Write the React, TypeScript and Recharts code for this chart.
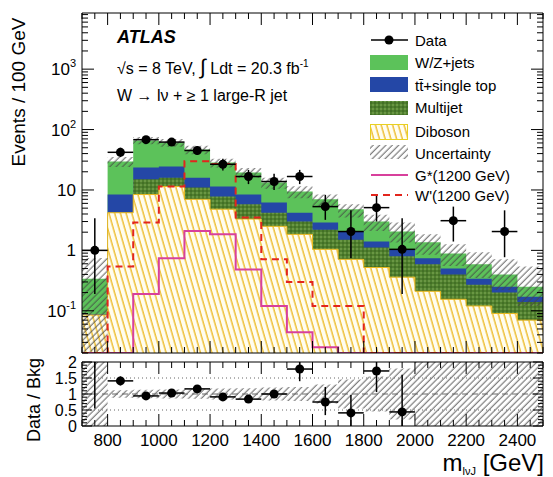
import React from 'react';
import { ComposedChart, Area, Line, Scatter, ErrorBar, XAxis, YAxis, ReferenceLine } from 'recharts';

const FONT = '"Liberation Sans", Arial, Helvetica, sans-serif';

// lower edges of the 100 GeV bins
const binEdges = [700, 800, 900, 1000, 1100, 1200, 1300, 1400, 1500, 1600, 1700, 1800, 1900, 2000, 2100, 2200, 2300, 2400];
const lastEdge = 2500;

// background components (events / 100 GeV), stacked bottom to top
const diboson = [0.085, 4.2, 8.4, 11.4, 7, 4.8, 3.3, 2.5, 1.84, 1.04, 0.71, 0.52, 0.36, 0.21, 0.155, 0.12, 0.09, 0.07];
const multijet = [0, 0, 6.6, 4.6, 4.0, 3.0, 2.5, 1.7, 1.16, 1.16, 0.79, 0.6, 0.44, 0.38, 0.245, 0.15, 0.11, 0.07];
const topSingle = [0.003, 4.2, 8.5, 8.5, 5.0, 3.6, 2.6, 2.0, 1.2, 0.7, 0.55, 0.28, 0.24, 0.15, 0.1, 0.07, 0.05, 0.03];
const wzJets = [0.252, 21.2, 42.5, 36.5, 30.6, 17.1, 11.1, 7.1, 5.2, 4.1, 2.75, 1.6, 1.01, 0.62, 0.39, 0.25, 0.15, 0.08];
const uncLow = [0.021, 24, 57, 52, 39, 23.5, 16, 10.5, 7.3, 5.4, 3.5, 2.1, 1.35, 0.85, 0.55, 0.35, 0.22, 0.12];
const uncHigh = [0.75, 35, 75, 70, 54, 33, 23, 16, 11.5, 8.4, 5.8, 3.9, 2.9, 1.84, 1.26, 0.93, 0.71, 0.54];

// signals (0.02 = at the floor of the plot)
const gStar = [0.02, 0.02, 0.19, 0.74, 2.1, 1.84, 0.48, 0.12, 0.044, 0.025, 0.02, 0.02, 0.02, 0.02, 0.02, 0.02, 0.02, 0.02];
const wPrime = [0.02, 0.54, 2.9, 11.4, 30, 27, 3.5, 0.71, 0.3, 0.12, 0.12, 0.02, 0.02, 0.02, 0.02, 0.02, 0.02, 0.02];

// data
const dataMass = [750, 850, 950, 1050, 1150, 1250, 1350, 1450, 1550, 1650, 1750, 1850, 1950, 2150, 2350];
const dataEvents = [1, 42, 68, 62, 45, 26.6, 16.7, 13.8, 16.7, 5.3, 2.05, 5.1, 1.04, 3.1, 2.05];
const dataLow = [0.19, 35, 59, 54, 38, 21, 12.5, 10, 12.5, 3.2, 0.75, 3, 0.19, 1.4, 0.77];
const dataHigh = [3.4, 50, 77, 71, 53, 33, 21.5, 18.5, 21.5, 8.3, 4.6, 8, 3.4, 5.3, 4.6];

// ratio panel (first bin is off the top: only its error bar from 0.55 shows)
const ratioMass = [750, 850, 950, 1050, 1150, 1250, 1350, 1450, 1550, 1650, 1750, 1850, 1950];
const ratioValue = [2.9, 1.41, 0.94, 1.03, 1.16, 0.91, 0.84, 1.0, 1.78, 0.75, 0.41, 1.72, 0.44];
const ratioLow = [0.55, 1.27, 0.87, 0.95, 1.08, 0.82, 0.72, 0.88, 1.4, 0.34, 0, 1.06, 0];
const ratioHigh = [5, 1.55, 1.01, 1.11, 1.25, 1.0, 0.96, 1.12, 2.1, 1.22, 0.97, 2.5, 1.6];
const ratioBandLow = [0, 0.88, 0.87, 0.86, 0.85, 0.83, 0.82, 0.8, 0.78, 0.7, 0.55, 0.45, 0.2, 0, 0, 0, 0, 0];
const ratioBandHigh = [2, 1.12, 1.13, 1.14, 1.15, 1.17, 1.18, 1.2, 1.22, 1.3, 1.45, 1.55, 1.8, 2, 2, 2, 2, 2];

const yMin = 0.02;
const yMax = 8500;
const rMax = 2;
const logMajor = [0.1, 1, 10, 100, 1000];

const edgeX = [...binEdges, lastEdge];
const edgeIdx = edgeX.map((_, k) => Math.min(k, binEdges.length - 1));

const mainRows = edgeX.map((x, k) => {
  const i = edgeIdx[k];
  const dib = diboson[i];
  const mj = dib + multijet[i];
  const top = mj + topSingle[i];
  const tot = top + wzJets[i];
  return { x, dib, mj, top, tot, unc: [uncLow[i], uncHigh[i]], gs: gStar[i], wp: wPrime[i] };
});

const ratioRows = edgeX.map((x, k) => {
  const i = edgeIdx[k];
  return { x, band: [ratioBandLow[i], ratioBandHigh[i]] };
});

const dataPts = dataMass.map((x, i) => ({
  x,
  y: dataEvents[i],
  ey: [dataEvents[i] - dataLow[i], dataHigh[i] - dataEvents[i]],
  ex: 50,
}));

// points above the panel are pinned just under its top edge and drawn without a marker
const ratioPts = ratioMass.map((x, i) => {
  const off = ratioValue[i] > rMax;
  const y = off ? rMax - 0.01 : ratioValue[i];
  const hi = Math.min(ratioHigh[i], rMax);
  return {
    x,
    y,
    off,
    ey: [y - ratioLow[i], Math.max(hi - y, 0.005)],
    ex: off ? 0.5 : 50,
  };
});

const xTicks: number[] = [];
for (let v = 700; v <= 2500; v += 50) xTicks.push(v);
const isMajorX = (v: number) => v % 200 === 0;

const logTicks: number[] = [];
[0.01, 0.1, 1, 10, 100, 1000].forEach((dec) => {
  for (let m = 1; m <= 9; m++) {
    const v = Number((m * dec).toPrecision(3));
    if (v >= yMin && v <= yMax) logTicks.push(v);
  }
});

const ratioTicks: number[] = [];
for (let k = 0; k <= 20; k++) ratioTicks.push(Number((k * 0.1).toFixed(1)));
const ratioMajor = [0, 0.5, 1, 1.5, 2];

const supLabel = (v: number) => {
  if (v === 1) return <tspan>1</tspan>;
  if (v === 10) return <tspan>10</tspan>;
  const exp = Math.round(Math.log10(v));
  return (
    <>
      <tspan>10</tspan>
      <tspan dy={-8} fontSize={11}>{exp}</tspan>
    </>
  );
};

const xTick = (side: 'bottom' | 'top', labels: boolean) => (p: any) => {
  const { x, y, payload } = p;
  const v = payload.value;
  const len = isMajorX(v) ? 12 : 6;
  const dir = side === 'bottom' ? -1 : 1;
  return (
    <g>
      <line x1={x} x2={x} y1={y} y2={y + dir * len} stroke="#000" strokeWidth={1} />
      {labels && isMajorX(v) && v >= 800 && v <= 2400 ? (
        <text x={x} y={y + 20} textAnchor="middle" fontSize={17} fontFamily={FONT} fill="#000">
          {v}
        </text>
      ) : null}
    </g>
  );
};

const logTick = (side: 'left' | 'right') => (p: any) => {
  const { x, y, payload } = p;
  const v = payload.value;
  const major = logMajor.includes(v);
  const len = major ? 12 : 6;
  const dir = side === 'left' ? 1 : -1;
  return (
    <g>
      <line x1={x} x2={x + dir * len} y1={y} y2={y} stroke="#000" strokeWidth={1} />
      {side === 'left' && major ? (
        <text x={x - 6} y={y + 6} textAnchor="end" fontSize={17} fontFamily={FONT} fill="#000">
          {supLabel(v)}
        </text>
      ) : null}
    </g>
  );
};

const ratioTick = (side: 'left' | 'right') => (p: any) => {
  const { x, y, payload } = p;
  const v = payload.value;
  const major = ratioMajor.includes(v);
  const len = major ? 10 : 5;
  const dir = side === 'left' ? 1 : -1;
  return (
    <g>
      <line x1={x} x2={x + dir * len} y1={y} y2={y} stroke="#000" strokeWidth={1} />
      {side === 'left' && major ? (
        <text x={x - 5} y={y + 6} textAnchor="end" fontSize={16} fontFamily={FONT} fill="#000">
          {v}
        </text>
      ) : null}
    </g>
  );
};

const dot = (p: any) => (
  <circle cx={p.cx} cy={p.cy} r={p.payload && p.payload.off ? 0.75 : 4.5} fill="#000" />
);

const Patterns = ({ prefix }: { prefix: string }) => (
  <defs>
    <pattern id={`${prefix}dib`} patternUnits="userSpaceOnUse" width="5.5" height="6" patternTransform="rotate(-16)">
      <rect width="6" height="6" fill="#fffdf0" />
      <line x1="2" y1="0" x2="2" y2="6" stroke="#eec03a" strokeWidth="1.5" />
    </pattern>
    <pattern id={`${prefix}unc`} patternUnits="userSpaceOnUse" width="4.5" height="5" patternTransform="rotate(45)">
      <line x1="2" y1="0" x2="2" y2="5" stroke="#444" strokeWidth="0.9" />
    </pattern>
    <pattern id={`${prefix}mj`} patternUnits="userSpaceOnUse" width="4" height="4">
      <rect width="4" height="4" fill="#4f7f2e" />
      <rect width="2" height="2" fill="#6a9644" />
      <rect x="2" y="2" width="2" height="2" fill="#436f26" />
    </pattern>
  </defs>
);

const GREEN = '#5cc25a';
const BLUE = '#2447a6';

const axisCommon = {
  tickSize: 0,
  tickMargin: 0,
  tickLine: false,
  interval: 0 as const,
  axisLine: { stroke: '#000', strokeWidth: 1 },
  allowDataOverflow: true,
};

export default function App() {
  return (
    <div style={{ position: 'absolute', left: 0, top: 0, width: 553, height: 477, background: '#fff', fontFamily: FONT }}>
      <div style={{ position: 'absolute', left: 0, top: 0 }}>
        <ComposedChart width={553} height={362} data={mainRows} margin={{ top: 12, right: 9, bottom: 8, left: 81 }}>
          <Patterns prefix="m" />
          <XAxis dataKey="x" type="number" domain={[700, 2500]} ticks={xTicks} height={1} tick={xTick('bottom', false)} {...axisCommon} />
          <XAxis xAxisId="t" orientation="top" dataKey="x" type="number" domain={[700, 2500]} ticks={xTicks} height={1} tick={xTick('top', false)} {...axisCommon} />
          <YAxis scale="log" type="number" domain={[yMin, yMax]} ticks={logTicks} width={1} tick={logTick('left')} {...axisCommon} />
          <YAxis yAxisId="r" orientation="right" scale="log" type="number" domain={[yMin, yMax]} ticks={logTicks} width={1} tick={logTick('right')} {...axisCommon} />
          <Area dataKey="tot" type="stepAfter" stroke="none" fill={GREEN} fillOpacity={1} baseValue={yMin} dot={false} activeDot={false} isAnimationActive={false} />
          <Area dataKey="top" type="stepAfter" stroke="none" fill={BLUE} fillOpacity={1} baseValue={yMin} dot={false} activeDot={false} isAnimationActive={false} />
          <Area dataKey="mj" type="stepAfter" stroke="none" fill="url(#mmj)" fillOpacity={1} baseValue={yMin} dot={false} activeDot={false} isAnimationActive={false} />
          <Area dataKey="dib" type="stepAfter" stroke="#e8b820" strokeWidth={1} fill="url(#mdib)" fillOpacity={1} baseValue={yMin} dot={false} activeDot={false} isAnimationActive={false} />
          <Area dataKey="unc" type="stepAfter" stroke="none" fill="url(#munc)" fillOpacity={1} dot={false} activeDot={false} isAnimationActive={false} />
          <Line dataKey="gs" type="stepAfter" stroke="#d8409c" strokeWidth={2} dot={false} activeDot={false} isAnimationActive={false} />
          <Line dataKey="wp" type="stepAfter" stroke="#e2251d" strokeWidth={2} strokeDasharray="7 5" dot={false} activeDot={false} isAnimationActive={false} />
          <Scatter data={dataPts} dataKey="y" shape={dot} isAnimationActive={false}>
            <ErrorBar dataKey="ey" direction="y" width={0} stroke="#000" strokeWidth={1.5} isAnimationActive={false} />
            <ErrorBar dataKey="ex" direction="x" width={0} stroke="#000" strokeWidth={1.5} isAnimationActive={false} />
          </Scatter>
        </ComposedChart>
      </div>
      <div style={{ position: 'absolute', left: 0, top: 355 }}>
        <ComposedChart width={553} height={122} data={ratioRows} margin={{ top: 6, right: 9, bottom: 50, left: 81 }}>
          <Patterns prefix="r" />
          <XAxis dataKey="x" type="number" domain={[700, 2500]} ticks={xTicks} height={1} tick={xTick('bottom', true)} {...axisCommon} />
          <XAxis xAxisId="t" orientation="top" dataKey="x" type="number" domain={[700, 2500]} ticks={xTicks} height={1} tick={xTick('top', false)} {...axisCommon} />
          <YAxis type="number" domain={[0, rMax]} ticks={ratioTicks} width={1} tick={ratioTick('left')} {...axisCommon} />
          <YAxis yAxisId="r" orientation="right" type="number" domain={[0, rMax]} ticks={ratioTicks} width={1} tick={ratioTick('right')} {...axisCommon} />
          <Area dataKey="band" type="stepAfter" stroke="none" fill="url(#runc)" fillOpacity={1} dot={false} activeDot={false} isAnimationActive={false} />
          <ReferenceLine y={1.5} stroke="#666" strokeDasharray="1 3" />
          <ReferenceLine y={0.5} stroke="#666" strokeDasharray="1 3" />
          <ReferenceLine y={1} stroke="#666" strokeDasharray="6 4" />
          <Scatter data={ratioPts} dataKey="y" shape={dot} isAnimationActive={false}>
            <ErrorBar dataKey="ey" direction="y" width={0} stroke="#000" strokeWidth={1.5} isAnimationActive={false} />
            <ErrorBar dataKey="ex" direction="x" width={0} stroke="#000" strokeWidth={1.5} isAnimationActive={false} />
          </Scatter>
        </ComposedChart>
      </div>
      <svg width={553} height={477} style={{ position: 'absolute', left: 0, top: 0, pointerEvents: 'none' }}>
        <Patterns prefix="l" />
        <text x={18} y={92} transform="rotate(-90 18 92)" textAnchor="middle" dominantBaseline="central" fontSize={19} fontFamily={FONT}>Events / 100 GeV</text>
        <text x={34} y={400} transform="rotate(-90 34 400)" textAnchor="middle" dominantBaseline="central" fontSize={18} fontFamily={FONT}>Data / Bkg</text>
        <text x={544} y={471} textAnchor="end" fontSize={24} fontFamily={FONT}>
          m<tspan fontSize={11} dy={4}>lνJ</tspan><tspan dy={-4}> [GeV]</tspan>
        </text>
        <text x={117} y={43} fontSize={18} fontWeight="bold" fontStyle="italic" fontFamily={FONT}>ATLAS</text>
        <text x={117} y={74} fontSize={16} fontFamily={FONT}>
          √s = 8 TeV, <tspan fontSize={21}>∫</tspan> Ldt = 20.3 fb<tspan dy={-7} fontSize={10}>-1</tspan>
        </text>
        <text x={117} y={101} fontSize={16} fontFamily={FONT}>W → lν + ≥ 1 large-R jet</text>

        <line x1={371} x2={408} y1={40} y2={40} stroke="#000" strokeWidth={1.5} />
        <circle cx={389} cy={40} r={4.5} fill="#000" />
        <text x={415} y={46} fontSize={15} fontFamily={FONT}>Data</text>
        <rect x={370} y={55} width={38} height={15} fill={GREEN} />
        <text x={415} y={68} fontSize={15} fontFamily={FONT}>W/Z+jets</text>
        <rect x={370} y={77} width={38} height={15} fill={BLUE} />
        <text x={415} y={91} fontSize={15} fontFamily={FONT}>tt̄+single top</text>
        <rect x={370} y={101} width={38} height={14} fill="url(#lmj)" />
        <text x={415} y={113} fontSize={15} fontFamily={FONT}>Multijet</text>
        <rect x={370.5} y={124.5} width={37} height={15} fill="url(#ldib)" stroke="#e8d020" strokeWidth={1} />
        <text x={415} y={137} fontSize={15} fontFamily={FONT}>Diboson</text>
        <rect x={370} y={145} width={38} height={14} fill="url(#lunc)" />
        <text x={415} y={159} fontSize={15} fontFamily={FONT}>Uncertainty</text>
        <line x1={371} x2={408} y1={175} y2={175} stroke="#d8409c" strokeWidth={2} />
        <text x={415} y={181} fontSize={15} fontFamily={FONT}>G*(1200 GeV)</text>
        <line x1={371} x2={408} y1={195} y2={195} stroke="#e2251d" strokeWidth={2} strokeDasharray="7 5" />
        <text x={415} y={201} fontSize={15} fontFamily={FONT}>W'(1200 GeV)</text>
      </svg>
    </div>
  );
}
